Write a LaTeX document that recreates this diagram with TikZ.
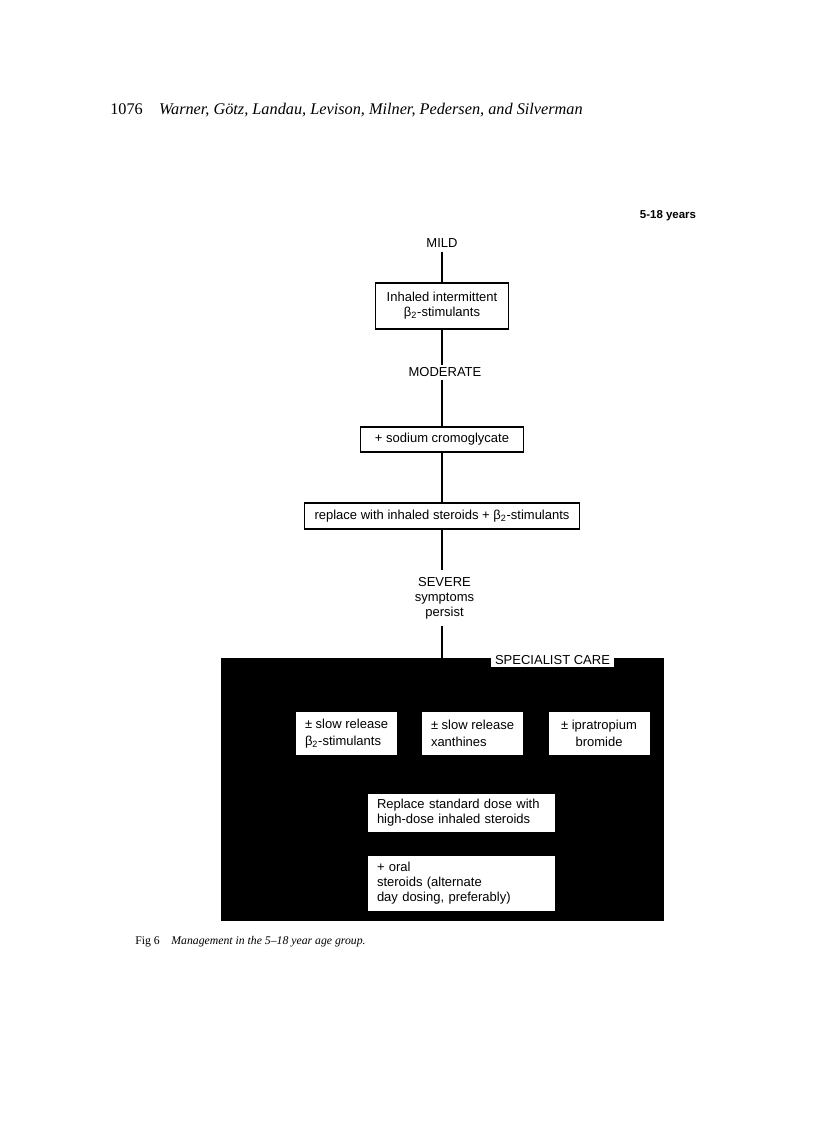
\documentclass[tikz,border=0pt]{standalone}
\usepackage{fontspec}
\setmainfont{Liberation Serif}
\setsansfont{Liberation Sans}
\usetikzlibrary{positioning}

\begin{document}
\begin{tikzpicture}[
  x=0.75pt, y=-0.75pt,
  font=\sffamily\fontsize{9.75}{11.25}\selectfont,
  box/.style={draw, line width=1.1pt, align=center, inner sep=0pt},
  lbl/.style={align=center, inner sep=3pt},
  wbox/.style={fill=white, inner sep=0pt, align=left,
               minimum width=75.75pt, minimum height=32.25pt,
               font=\sffamily\fontsize{9.75}{12.75}\selectfont},
  wide/.style={fill=white, align=left, inner xsep=6.75pt, inner ysep=0pt,
               text width=126.75pt, minimum width=140.25pt},
  ln/.style={line width=1.4pt}
]
\useasboundingbox (0,0) rectangle (816,1122);

% running head and caption
\node[anchor=base west, inner sep=0pt, font=\rmfamily\fontsize{12.2}{14}\selectfont] (head)
  at (110,114) {1076\quad\textit{Warner, Götz, Landau, Levison, Milner, Pedersen, and Silverman}};
\node[anchor=base west, inner sep=0pt, font=\rmfamily\fontsize{8.8}{10}\selectfont] (cap)
  at (135,944) {Fig 6\quad\textit{Management in the 5--18 year age group.}};

\node[font=\sffamily\bfseries\fontsize{8.6}{10}\selectfont] (age) at (668,216) {5-18 years};

% main steps
\node[lbl] (mild) at (442,243) {MILD};
\node[box, minimum width=99.75pt, minimum height=34.5pt] (inhaled) at (442,306)
  {Inhaled intermittent\\β\textsubscript{2}-stimulants};
\node[lbl, inner sep=2pt] (moderate) at (445,372.5) {MODERATE};
\node[box, minimum width=122.25pt, minimum height=18.75pt] (cromo) at (442,439.5)
  {+ sodium cromoglycate};
\node[box, minimum width=206.25pt, minimum height=19.5pt] (replace) at (442,516)
  {replace with inhaled steroids + β\textsubscript{2}-stimulants};
\node[lbl, inner sep=5pt] (severe) at (444.5,598) {SEVERE\\symptoms\\persist};

% specialist care block
\node[fill=black, minimum width=332.25pt, minimum height=197.25pt, inner sep=0pt]
  (specialist) at (442.5,789.5) {};
\node[fill=white, inner xsep=3.4pt, inner ysep=1.5pt] (care) at (552.5,660) {SPECIALIST CARE};
\node[wbox] (slowbeta) at (346.5,733.5) {± slow release\\β\textsubscript{2}-stimulants};
\node[wbox] (slowxan) at (472.5,733.5) {± slow release\\xanthines};
\node[wbox, align=center] (iprat) at (599,733.5) {± ipratropium\\bromide};
\node[wide, minimum height=28.5pt] (highdose) at (461.5,813)
  {Replace standard dose with\\high-dose inhaled steroids};
\node[wide, minimum height=41.25pt] (oral) at (461.5,883.5)
  {+ oral\\steroids (alternate\\day dosing, preferably)};

\draw[ln] (mild) -- (inhaled);
\draw[ln] (inhaled) -- (inhaled |- moderate.north);
\draw[ln] (cromo |- moderate.south) -- (cromo);
\draw[ln] (cromo) -- (replace);
\draw[ln] (replace) -- (replace |- severe.north);
\draw[ln] (replace |- severe.south) -- (replace |- specialist.north);
\end{tikzpicture}
\end{document}
